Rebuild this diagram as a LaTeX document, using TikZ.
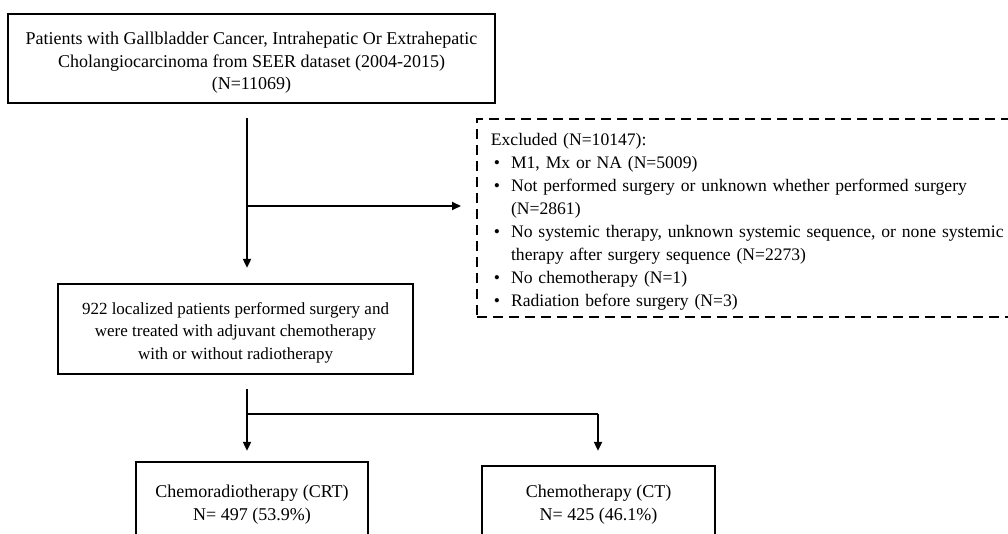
\documentclass[tikz,border=0pt]{standalone}
\usepackage{fontspec}
\setmainfont{Liberation Serif}
\usetikzlibrary{arrows.meta,calc}
\tikzset{
  box/.style={draw, line width=2.3pt, align=center, inner sep=0pt},
  exbox/.style={draw, dashed, dash pattern=on 10pt off 6pt, line width=1.8pt, anchor=north west, inner xsep=14pt, inner ysep=0pt, text width=540pt, align=left},
  conn/.style={line width=1.9pt},
  arr/.style={conn, -{Triangle[length=9pt,width=8pt]}},
}
\begin{document}
\begin{tikzpicture}[x=1pt,y=-1pt,font=\fontsize{18}{22.7}\selectfont]
\useasboundingbox (0,0) rectangle (1008,534);
\clip (0,0) rectangle (1008,534);
\node[box, minimum width=487pt, minimum height=89pt] (top) at (251.5,58.5)
  {\rule{0pt}{21pt}Patients with Gallbladder Cancer, Intrahepatic Or Extrahepatic\\
   Cholangiocarcinoma from SEER dataset (2004-2015)\\ (N=11069)};
\node[box, minimum width=355pt, minimum height=90pt, font=\fontsize{17}{22.6}\selectfont] (mid) at (235.5,329)
  {\rule{0pt}{19pt}922 localized patients performed surgery and\\
   were treated with adjuvant chemotherapy\\ with or without radiotherapy};
\node[exbox, minimum height=198pt, font=\fontsize{17.6}{23}\selectfont] (excl) at (476,118)
  {\begin{tabular}{@{}l@{\hspace{11pt}}l@{}}
   \multicolumn{2}{@{}l}{\rule{0pt}{23pt}Excluded (N=10147):}\\
   \hspace{3pt}\textbullet & M1, Mx or NA (N=5009)\\
   \hspace{3pt}\textbullet & Not performed surgery or unknown whether performed surgery\\
   & (N=2861)\\
   \hspace{3pt}\textbullet & No systemic therapy, unknown systemic sequence, or none systemic\\
   & therapy after surgery sequence (N=2273)\\
   \hspace{3pt}\textbullet & No chemotherapy (N=1)\\
   \hspace{3pt}\textbullet & Radiation before surgery (N=3)
   \end{tabular}};
\node[box, minimum width=232pt, minimum height=85pt] (crt) at (252,504.5)
  {Chemoradiotherapy (CRT)\\ N= 497 (53.9\%)};
\node[box, minimum width=233pt, minimum height=77pt] (ct) at (598.5,504.5)
  {Chemotherapy (CT)\\ N= 425 (46.1\%)};
\coordinate (j1) at (247,206);
\coordinate (j2) at (247,414);
\coordinate (j3) at (598,414);
\draw[arr, shorten <=14pt, shorten >=15pt] (top.south -| j1) -- (mid.north -| j1);
\draw[arr, shorten >=15pt] (j1) -- (excl.west |- j1);
\draw[conn, shorten <=14pt] (mid.south -| j2) -- (j2) -- (j3);
\draw[arr, shorten >=10pt] (j2) -- (crt.north -| j2);
\draw[arr, shorten >=14pt] (j3) -- (ct.north -| j3);
\end{tikzpicture}
\end{document}
